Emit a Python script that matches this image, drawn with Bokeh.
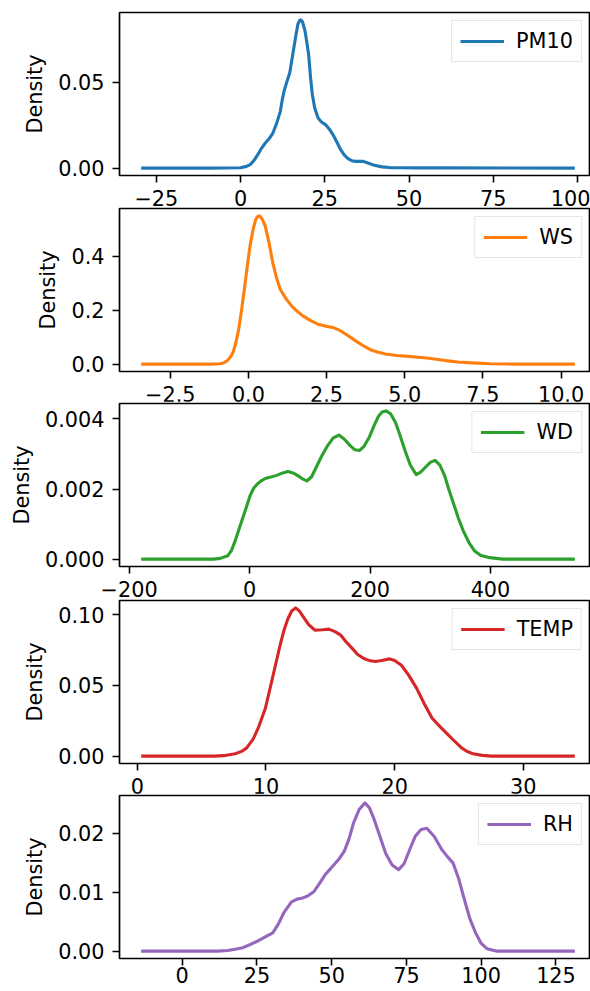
from bokeh.plotting import figure
from bokeh.models import Range1d, FixedTicker, Legend, LegendItem
from bokeh.layouts import column
from bokeh.embed import file_html
from bokeh.resources import INLINE

# ---------------- data ----------------
pm10_x = [-29.5, -10.0, 0.0, 1.75, 3.0, 4.0, 5.1, 6.2, 7.35, 8.5, 9.6, 10.7, 11.8, 12.4, 12.9,
          13.7, 14.6, 15.4, 16.3, 17.0, 17.5, 17.9, 18.4, 19.1, 19.6, 20.2, 20.8, 21.3, 22.0,
          23.0, 24.0, 25.2, 26.3, 27.4, 28.6, 29.7, 30.8, 31.9, 33.0, 34.1, 35.3, 36.4, 38.0,
          39.7, 42.0, 44.2, 48.0, 52.0, 60.0, 99.2]
pm10_y = [0.0, 0.0, 0.0002, 0.0010, 0.0022, 0.0045, 0.0078, 0.0115, 0.0146, 0.0172, 0.0204,
          0.0260, 0.0330, 0.0400, 0.0447, 0.0500, 0.0554, 0.0650, 0.0758, 0.0837, 0.0858,
          0.0862, 0.0850, 0.0800, 0.0739, 0.0660, 0.0520, 0.0428, 0.0350, 0.0292, 0.0268,
          0.0253, 0.0228, 0.0195, 0.0150, 0.0107, 0.0075, 0.0055, 0.0043, 0.0039, 0.0039,
          0.0039, 0.0028, 0.0016, 0.0007, 0.0003, 0.0002, 0.0001, 0.0001, 0.0]

ws_x = [-3.43, -1.2, -0.91, -0.8, -0.67, -0.58, -0.49, -0.40, -0.31, -0.22, -0.13, -0.04, 0.05,
        0.14, 0.23, 0.30, 0.36, 0.45, 0.54, 0.66, 0.78, 0.90, 1.02, 1.20, 1.38, 1.56, 1.74,
        1.98, 2.22, 2.46, 2.70, 2.94, 3.18, 3.42, 3.66, 3.90, 4.15, 4.39, 4.75, 5.11, 5.71,
        6.00, 6.31, 6.70, 7.15, 7.74, 8.50, 10.44]
ws_y = [0.0, 0.0, 0.001, 0.004, 0.013, 0.025, 0.0437, 0.080, 0.130, 0.200, 0.277, 0.360, 0.437,
        0.495, 0.536, 0.548, 0.550, 0.537, 0.511, 0.450, 0.376, 0.320, 0.277, 0.243, 0.216,
        0.196, 0.179, 0.162, 0.148, 0.141, 0.136, 0.124, 0.106, 0.087, 0.069, 0.0535, 0.044,
        0.0376, 0.032, 0.0288, 0.0229, 0.018, 0.013, 0.008, 0.0044, 0.001, 0.0, 0.0]

wd_x = [-180, -60, -49, -36.4, -30, -24, -18, -11.4, -5, 1.2, 7, 13.7, 20, 26.2, 35, 45, 55,
        63.8, 72, 79.4, 87, 95.2, 103, 110.8, 120, 129.6, 139, 148.3, 157, 167, 175, 182.7,
        190, 198.5, 206, 214, 220, 226.6, 234, 242.3, 250, 258, 267, 276.7, 284, 292.4, 300,
        308, 316, 323.7, 331, 339.3, 347, 355, 364, 373.7, 384, 395.7, 420, 540]
wd_y = [0.0, 0.0, 0.00002, 0.000093, 0.00025, 0.00052, 0.00083, 0.00117, 0.00150, 0.00183,
        0.00203, 0.00216, 0.00224, 0.00230, 0.00234, 0.00239, 0.00246, 0.00250, 0.00246,
        0.00239, 0.00230, 0.00223, 0.00235, 0.00263, 0.00295, 0.00324, 0.00346, 0.00354,
        0.00343, 0.00324, 0.00312, 0.00310, 0.00322, 0.00347, 0.00378, 0.00408, 0.00420,
        0.00423, 0.00415, 0.00390, 0.00352, 0.00310, 0.00268, 0.00241, 0.00248, 0.00263,
        0.00276, 0.00282, 0.00268, 0.00239, 0.00198, 0.00155, 0.00115, 0.00080, 0.00048,
        0.00023, 0.00010, 0.00005, 0.0, 0.0]

temp_x = [0.3, 6.0, 6.7, 7.6, 8.1, 8.5, 9.0, 9.4, 9.96, 10.5, 11.1, 11.4, 11.7, 12.0, 12.3,
          12.6, 12.9, 13.3, 13.8, 14.4, 14.9, 15.4, 15.8, 16.2, 16.7, 17.1, 17.6, 18.0, 18.5,
          19.0, 19.6, 20.0, 20.5, 21.1, 21.7, 22.3, 22.9, 23.5, 24.0, 24.6, 25.2, 25.6, 26.1,
          26.8, 27.5, 34.0]
temp_y = [0.0, 0.0, 0.0003, 0.0016, 0.0033, 0.0058, 0.012, 0.0199, 0.034, 0.055, 0.0785,
          0.089, 0.097, 0.1025, 0.1047, 0.1025, 0.0984, 0.093, 0.089, 0.0893, 0.0897, 0.0878,
          0.0855, 0.081, 0.0761, 0.072, 0.069, 0.0676, 0.0668, 0.0676, 0.0687, 0.0675, 0.0644,
          0.057, 0.048, 0.037, 0.0269, 0.021, 0.0164, 0.011, 0.0058, 0.0034, 0.0016, 0.0005,
          0.0, 0.0]

rh_x = [-13.7, 12.0, 15.2, 17.7, 20.2, 22.7, 25.2, 27.8, 30.3, 32.2, 34.0, 36.5, 38.4, 40.3,
        42.2, 44.1, 46.0, 47.9, 50.4, 52.3, 54.2, 55.8, 57.3, 59.2, 61.1, 62.6, 64.2, 66.1,
        68.0, 70.2, 72.4, 74.2, 76.1, 78.0, 79.9, 81.8, 84.3, 86.8, 88.7, 90.6, 92.5, 94.4,
        96.2, 98.1, 100.0, 101.9, 105.0, 131.3]
rh_y = [0.0, 0.0, 0.0001, 0.0003, 0.00056, 0.0011, 0.0017, 0.0024, 0.0031, 0.0046, 0.0065,
        0.0083, 0.0088, 0.0090, 0.0094, 0.0101, 0.0115, 0.0130, 0.0144, 0.0155, 0.0169,
        0.0190, 0.0217, 0.0240, 0.0251, 0.0243, 0.0223, 0.0195, 0.0166, 0.0146, 0.0138,
        0.0148, 0.0172, 0.0195, 0.0206, 0.0208, 0.0194, 0.0172, 0.0160, 0.0149, 0.0122,
        0.0087, 0.0055, 0.0031, 0.0013, 0.0004, 0.0, 0.0]

names = ["PM10", "WS", "WD", "TEMP", "RH"]
colors = ["#1f77b4", "#ff7f0e", "#2ca02c", "#d62728", "#9467bd"]

pm10_xticks = [-25, 0, 25, 50, 75, 100]
pm10_xlabels = ["\u221225", "0", "25", "50", "75", "100"]
pm10_yticks = [0.0, 0.05]
pm10_ylabels = ["0.00", "0.05"]

ws_xticks = [-2.5, 0.0, 2.5, 5.0, 7.5, 10.0]
ws_xlabels = ["\u22122.5", "0.0", "2.5", "5.0", "7.5", "10.0"]
ws_yticks = [0.0, 0.2, 0.4]
ws_ylabels = ["0.0", "0.2", "0.4"]

wd_xticks = [-200, 0, 200, 400]
wd_xlabels = ["\u2212200", "0", "200", "400"]
wd_yticks = [0.0, 0.002, 0.004]
wd_ylabels = ["0.000", "0.002", "0.004"]

temp_xticks = [0, 10, 20, 30]
temp_xlabels = ["0", "10", "20", "30"]
temp_yticks = [0.0, 0.05, 0.10]
temp_ylabels = ["0.00", "0.05", "0.10"]

rh_xticks = [0, 25, 50, 75, 100, 125]
rh_xlabels = ["0", "25", "50", "75", "100", "125"]
rh_yticks = [0.0, 0.01, 0.02]
rh_ylabels = ["0.00", "0.01", "0.02"]

# ---------------- styling / layout ----------------
FONT = "DejaVu Sans"
FS = "20.8px"
W = 590
FRAME_H = 163
LEFT = 119
VIS_FRAC = 471.0 / 477.0   # right part of each axes is cut off by the page edge


def make_panel(name, color, xs, ys, xt, xl, yt, yl, top_b, bot_b, margin, x_standoff):
    xmin, xmax = min(xs), max(xs)
    span = xmax - xmin
    x0 = xmin - 0.05 * span
    x1 = x0 + (xmax + 0.05 * span - x0) * VIS_FRAC
    ymax = max(ys)
    p = figure(width=W, height=top_b + FRAME_H + bot_b,
               x_range=Range1d(x0, x1), y_range=Range1d(-0.05 * ymax, 1.05 * ymax),
               output_backend="svg", toolbar_location=None,
               min_border_left=LEFT, min_border_right=0,
               min_border_top=top_b, min_border_bottom=bot_b, margin=margin)
    p.background_fill_color = "white"
    p.border_fill_color = "white"
    p.outline_line_color = "black"
    p.outline_line_width = 1.7
    p.xgrid.visible = False
    p.ygrid.visible = False

    r = p.line(xs, ys, line_color=color, line_width=3.1, line_join="round")

    for ax in (p.xaxis[0], p.yaxis[0]):
        ax.axis_line_color = None
        ax.major_tick_in = 0
        ax.major_tick_out = 7
        ax.major_tick_line_width = 1.6
        ax.major_tick_line_color = "black"
        ax.minor_tick_line_color = None
        ax.major_label_text_font = FONT
        ax.major_label_text_font_size = FS
        ax.major_label_text_color = "black"

    p.xaxis.ticker = FixedTicker(ticks=xt)
    p.xaxis.major_label_overrides = dict(zip(xt, xl))
    p.xaxis.major_label_standoff = x_standoff

    p.yaxis.ticker = FixedTicker(ticks=yt)
    p.yaxis.major_label_overrides = dict(zip(yt, yl))
    p.yaxis.major_label_standoff = 8
    p.yaxis.axis_label = "Density"
    p.yaxis.axis_label_text_font = FONT
    p.yaxis.axis_label_text_font_size = FS
    p.yaxis.axis_label_text_font_style = "normal"
    p.yaxis.axis_label_text_color = "black"
    p.yaxis.axis_label_standoff = 8

    legend = Legend(items=[LegendItem(label=name, renderers=[r])],
                    location="top_right", margin=8, padding=8,
                    label_standoff=12, glyph_width=44, spacing=0,
                    label_text_font=FONT, label_text_font_size=FS,
                    label_text_color="black",
                    border_line_color="#cccccc", border_line_width=1.5,
                    background_fill_color="white", background_fill_alpha=0.8)
    p.add_layout(legend)
    return p


data = [
    (pm10_x, pm10_y, pm10_xticks, pm10_xlabels, pm10_yticks, pm10_ylabels),
    (ws_x, ws_y, ws_xticks, ws_xlabels, ws_yticks, ws_ylabels),
    (wd_x, wd_y, wd_xticks, wd_xlabels, wd_yticks, wd_ylabels),
    (temp_x, temp_y, temp_xticks, temp_xlabels, temp_yticks, temp_ylabels),
    (rh_x, rh_y, rh_xticks, rh_xlabels, rh_yticks, rh_ylabels),
]
tops = [12, 2, 2, 2, 2]
bots = [40, 40, 40, 40, 33]
margins = [(0, 0, 0, 0), (-9, 0, 0, 0), (-10, 0, 0, 0), (-8, 0, 0, 0), (-10, 0, 0, 0)]
standoffs = [7, 7, 7, 7, 1]

figs = []
for i, (xs, ys, xt, xl, yt, yl) in enumerate(data):
    figs.append(make_panel(names[i], colors[i], xs, ys, xt, xl, yt, yl,
                           tops[i], bots[i], margins[i], standoffs[i]))

layout = column(*figs)
open("out.html", "w").write(file_html(layout, INLINE))
